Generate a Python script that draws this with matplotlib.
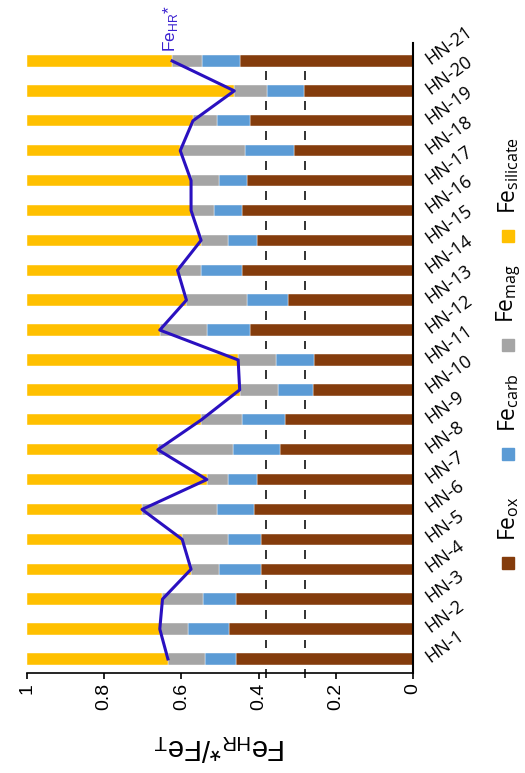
import numpy as np
import matplotlib
matplotlib.use("Agg")
from matplotlib import pyplot

# iron speciation per sample, fraction of Fe_T
samples = ["HN-%d" % i for i in range(1, 22)]
fe_ox = [0.458, 0.476, 0.458, 0.394, 0.394, 0.412, 0.405, 0.344, 0.331, 0.259, 0.256,
         0.422, 0.323, 0.444, 0.403, 0.444, 0.430, 0.308, 0.422, 0.282, 0.447]
fe_carb = [0.082, 0.107, 0.086, 0.109, 0.084, 0.096, 0.074, 0.122, 0.113, 0.092, 0.099,
           0.112, 0.106, 0.104, 0.075, 0.071, 0.073, 0.127, 0.086, 0.095, 0.100]
fe_mag = [0.095, 0.073, 0.105, 0.072, 0.120, 0.194, 0.055, 0.195, 0.104, 0.098, 0.098,
          0.122, 0.158, 0.062, 0.071, 0.060, 0.072, 0.168, 0.062, 0.086, 0.077]
fe_silicate = [0.365, 0.344, 0.351, 0.425, 0.402, 0.298, 0.466, 0.339, 0.452, 0.551, 0.547,
               0.344, 0.413, 0.390, 0.451, 0.425, 0.425, 0.397, 0.430, 0.537, 0.376]
fe_hr = [0.635, 0.656, 0.649, 0.575, 0.598, 0.702, 0.534, 0.661, 0.548, 0.449, 0.453,
         0.656, 0.587, 0.610, 0.549, 0.575, 0.575, 0.603, 0.570, 0.463, 0.624]
thresholds = [0.38, 0.28]

series = [("ox", fe_ox, "#843C0C"),
          ("carb", fe_carb, "#5B9BD5"),
          ("mag", fe_mag, "#A5A5A5"),
          ("silicate", fe_silicate, "#FFC000")]

W, H = 525, 773
fig = pyplot.figure(figsize=(W / 100, H / 100), dpi=100)
ax = fig.add_axes([27 / W, 1 - 673 / H, (413 - 27) / W, (673 - 43) / H])

y = np.arange(len(samples))

# dashed threshold lines, only visible between the bars
gaps = np.arange(len(samples)) - 0.5
for t in thresholds:
    ax.vlines([t] * len(gaps), gaps - 0.15, gaps + 0.15, colors="#222222",
              linewidth=1.3, zorder=1, clip_on=False)

left = np.zeros(len(samples))
for name, vals, color in series:
    ax.barh(y, vals, left=left, height=0.38, color=color, edgecolor="white",
            linewidth=0.3, zorder=2)
    left += np.array(vals)

ax.plot(fe_hr, y, color="#2A10C0", linewidth=2.2, zorder=3)
ax.text(fe_hr[-1] + 0.005, 20.3, r"Fe$_\mathregular{HR}$*", color="#3A20D0",
        rotation=90, ha="center", va="bottom", fontsize=12.5,
        family="Liberation Sans", clip_on=False)

ax.set_xlim(1, 0)
ax.set_ylim(-0.47, 20.6)

ax.spines["top"].set_visible(False)
ax.spines["left"].set_visible(False)
ax.spines["right"].set_linewidth(1.5)
ax.spines["bottom"].set_linewidth(1.2)

ax.set_xticks([1, 0.8, 0.6, 0.4, 0.2, 0])
ax.set_xticklabels(["1", "0.8", "0.6", "0.4", "0.2", "0"], rotation=90,
                   fontsize=14, family="Liberation Sans")
ax.tick_params(axis="x", direction="out", length=4, width=1.2, pad=3)

ax.yaxis.tick_right()
ax.set_yticks(y)
ax.set_yticklabels(samples, rotation=36, ha="left", va="center",
                   rotation_mode="anchor", fontsize=13, family="Open Sans")
ax.tick_params(axis="y", length=0, pad=10)

fig.text(220 / W, 1 - 747 / H, r"Fe$_\mathregular{HR}$*/Fe$_\mathregular{T}$",
         rotation=180, ha="center", va="center", fontsize=21,
         family="Liberation Sans")

# legend drawn by hand, rotated like the rest of the chart
marker_y = [563, 454, 345, 236]
for (name, vals, color), my in zip(series, marker_y):
    fig.add_artist(pyplot.Line2D([508 / W], [1 - my / H], marker="s",
                                 markersize=8.5, color=color, linestyle="none"))
    fig.text(509 / W, 1 - (my - 22) / H, r"Fe$_\mathregular{%s}$" % name,
             rotation=90, ha="center", va="bottom", fontsize=16.5,
             family="Open Sans")

fig.savefig("out.png", dpi=100)
